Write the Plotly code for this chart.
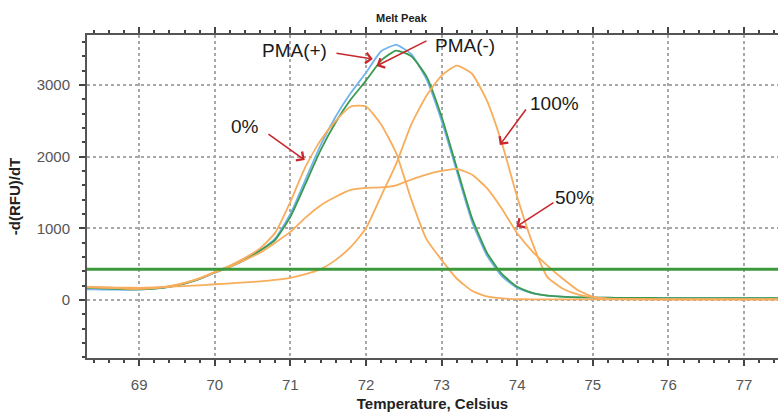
import plotly.graph_objects as go

# ---------------- data ----------------
temperature = [68.2, 68.4, 68.6, 68.8, 69.0, 69.2, 69.4, 69.6, 69.8, 70.0,
               70.2, 70.4, 70.6, 70.8, 71.0, 71.2, 71.4, 71.6, 71.8, 72.0,
               72.2, 72.4, 72.6, 72.8, 73.0, 73.2, 73.4, 73.6, 73.8, 74.0,
               74.2, 74.4, 74.6, 74.8, 75.0, 75.2, 75.4, 75.6, 75.8, 76.0,
               76.2, 76.4, 76.6, 76.8, 77.0, 77.2, 77.4, 77.6]

pma_plus = [150, 148, 145, 143, 145, 158, 185, 230, 295, 380,
            460, 560, 690, 860, 1200, 1680, 2160, 2560, 2890, 3170,
            3470, 3560, 3430, 3080, 2500, 1800, 1100, 620, 330, 170,
            95, 60, 45, 38, 34, 32, 30, 29, 28, 27,
            27, 26, 26, 25, 25, 25, 25, 25]

pma_minus = [175, 168, 160, 152, 150, 160, 185, 230, 295, 385,
             465, 565, 690, 840, 1160, 1620, 2090, 2480, 2800, 3060,
             3340, 3480, 3400, 3120, 2560, 1850, 1150, 660, 360, 185,
             100, 62, 46, 38, 34, 32, 30, 29, 28, 27,
             27, 26, 26, 25, 25, 25, 25, 25]

pct_0 = [185, 180, 172, 165, 160, 170, 195, 240, 305, 390,
         480, 590, 720, 940, 1370, 1860, 2230, 2500, 2700, 2700,
         2450, 2050, 1400, 850, 560, 300, 130, 50, 22, 12,
         10, 9, 9, 8, 8, 8, 8, 8, 8, 8,
         8, 8, 8, 8, 8, 8, 8, 8]

pct_50 = [185, 178, 170, 160, 155, 165, 190, 235, 300, 385,
          460, 560, 660, 800, 950, 1150, 1320, 1440, 1535, 1565,
          1570, 1600, 1680, 1750, 1800, 1830, 1750, 1560, 1270, 930,
          680, 480, 300, 140, 45, 18, 12, 10, 10, 10,
          10, 10, 10, 10, 10, 10, 10, 10]

pct_100 = [180, 178, 175, 172, 170, 175, 185, 195, 205, 220,
           232, 245, 260, 280, 310, 360, 430, 560, 740, 1000,
           1450, 1900, 2450, 2850, 3130, 3270, 3160, 2780, 2180, 1440,
           800, 320, 160, 80, 40, 20, 14, 12, 10, 10,
           10, 10, 10, 10, 10, 10, 10, 10]

threshold = 430

x_range = [68.31, 77.45]
y_range = [-809, 3697]

# annotation labels, text positions, arrow tails and heads (data units)
labels = ["PMA(+)", "PMA(-)", "0%", "100%", "50%"]
label_x = [71.05, 73.31, 70.40, 74.50, 74.75]
label_y = [3487, 3557, 2427, 2748, 1437]
tail_x = [71.59, 72.82, 70.69, 74.13, 74.50]
tail_y = [3445, 3626, 2329, 2678, 1371]
head_x = [72.09, 72.14, 71.19, 73.77, 73.99]
head_y = [3361, 3264, 1953, 2162, 1023]

# ---------------- figure ----------------
fig = go.Figure()
series = [
    ("PMA(+)", pma_plus, "#72b4ee"),
    ("PMA(-)", pma_minus, "#3a9a4e"),
    ("0%", pct_0, "#f7ad5c"),
    ("50%", pct_50, "#f7ad5c"),
    ("100%", pct_100, "#f7ad5c"),
]
for name, vals, col in series:
    fig.add_trace(go.Scatter(x=temperature, y=vals, mode="lines", name=name,
                             line=dict(color=col, width=1.8,
                                       shape="spline", smoothing=0.5)))

fig.add_hline(y=threshold, line=dict(color="#3c9a3c", width=3))

for i, lab in enumerate(labels):
    fig.add_annotation(x=head_x[i], y=head_y[i], ax=tail_x[i], ay=tail_y[i],
                       xref="x", yref="y", axref="x", ayref="y",
                       showarrow=True, arrowhead=4, arrowsize=1.3,
                       arrowwidth=1.6, arrowcolor="#c8282d", text="")
    fig.add_annotation(x=label_x[i], y=label_y[i], xref="x", yref="y",
                       text=lab, showarrow=False,
                       font=dict(family="Liberation Sans, Arial", size=19,
                                 color="#1a1a1a"))

fig.add_annotation(x=0.456, y=1.0526, xref="paper", yref="paper",
                   text="<b>Melt Peak</b>", showarrow=False,
                   xanchor="center", yanchor="middle",
                   font=dict(family="Liberation Sans, Arial", size=11,
                             color="#222"))

axis_common = dict(
    showline=True, linecolor="#555", linewidth=2,
    ticks="outside", ticklen=6, tickwidth=2, tickcolor="#444",
    showgrid=True, gridcolor="#a8a8a8", griddash="dot", gridwidth=1.5,
    zeroline=False,
    tickfont=dict(family="Liberation Sans, Arial", size=15, color="#555"),
)

fig.update_layout(
    width=778, height=413,
    margin=dict(l=87, r=0, t=35, b=55),
    paper_bgcolor="white", plot_bgcolor="white",
    showlegend=False,
    xaxis=dict(range=x_range, dtick=1, tick0=69, mirror="ticks",
               minor=dict(dtick=0.2, ticks="outside", ticklen=3,
                          tickcolor="#444", tickwidth=2, showgrid=False),
               ticklabelstandoff=6,
               title=dict(text="<b>Temperature, Celsius</b>", standoff=6,
                          font=dict(family="Liberation Sans, Arial", size=15,
                                    color="#222")),
               **axis_common),
    yaxis=dict(range=y_range, dtick=1000, tick0=0,
               minor=dict(dtick=200, ticks="outside", ticklen=3,
                          tickcolor="#444", tickwidth=2, showgrid=False),
               ticklabelstandoff=6,
               title=dict(text="<b>-d(RFU)/dT</b>", standoff=12,
                          font=dict(family="Liberation Sans, Arial", size=15,
                                    color="#222")),
               **axis_common),
)

fig.write_html("out.html")
